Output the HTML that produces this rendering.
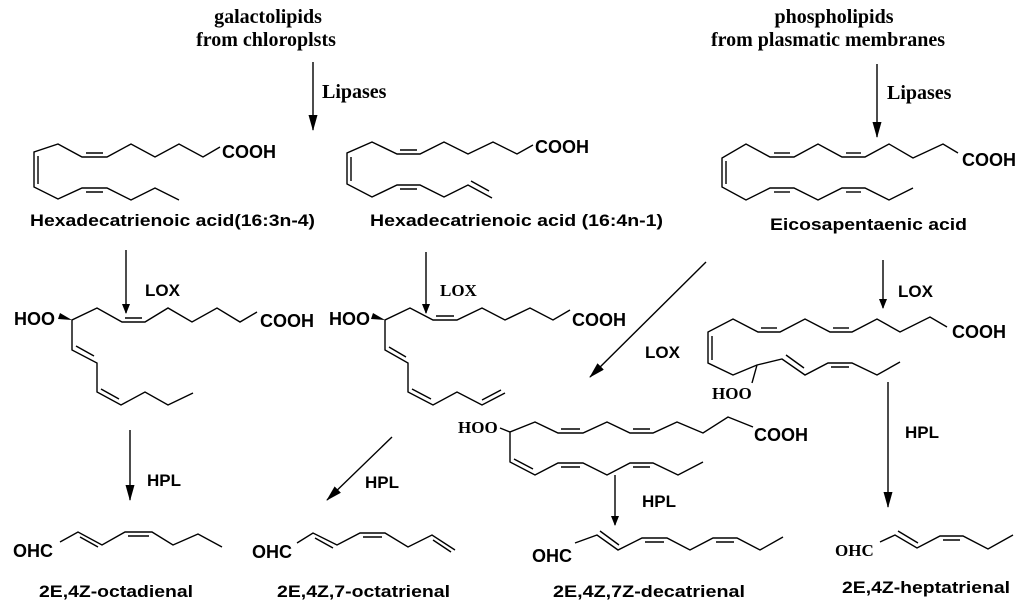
<!DOCTYPE html>
<html><head><meta charset="utf-8"><style>
html,body{margin:0;padding:0;background:#fff}
svg{display:block}
.s{font-family:"Liberation Sans",sans-serif;font-weight:bold;fill:#000}
.r{font-family:"Liberation Serif",serif;font-weight:bold;fill:#000}
</style></head><body>
<svg width="1024" height="612" viewBox="0 0 1024 612" xmlns="http://www.w3.org/2000/svg">
<defs><marker id="a" markerWidth="10" markerHeight="12" refX="9" refY="4" orient="auto" markerUnits="userSpaceOnUse"><path d="M0,0 L10,4 L0,8 z" fill="#000"/></marker>
<marker id="b" markerWidth="16" markerHeight="12" refX="15" refY="4.5" orient="auto" markerUnits="userSpaceOnUse"><path d="M0,0 L16,4.5 L0,9 z" fill="#000"/></marker></defs>
<g fill="none" stroke="#000" stroke-width="1.4">
<line x1="313" y1="62" x2="313" y2="130" marker-end="url(#b)"/>
<line x1="877" y1="64" x2="877" y2="137" marker-end="url(#b)"/>
<line x1="126" y1="250" x2="126" y2="313" marker-end="url(#a)"/>
<line x1="426" y1="252" x2="426" y2="313" marker-end="url(#a)"/>
<line x1="883" y1="260" x2="883" y2="308" marker-end="url(#a)"/>
<line x1="706" y1="262" x2="590" y2="377" marker-end="url(#b)"/>
<line x1="888" y1="382" x2="888" y2="507" marker-end="url(#b)"/>
<line x1="130" y1="430" x2="130" y2="500" marker-end="url(#b)"/>
<line x1="392" y1="437" x2="327" y2="500" marker-end="url(#b)"/>
<line x1="615" y1="475" x2="615" y2="525" marker-end="url(#a)"/>
<polyline points="220,147 203,157 179,144 155,157 131,144 107,157 82,157 58,144 34,152 34,187 58,199 82,188 107,188 131,200 155,188 179,200"/>
<line x1="86" y1="153" x2="103" y2="153"/><line x1="38" y1="156" x2="38" y2="184"/><line x1="86" y1="192" x2="103" y2="192"/>
<polyline points="533,145 517,154 493,142 468,154 444,142 420,154 397,154 372,142 347,153 347,184 372,197 397,185 420,185 444,197 468,185 492,198"/>
<line x1="400" y1="150" x2="417" y2="150"/><line x1="351" y1="157" x2="351" y2="181"/><line x1="400" y1="189" x2="417" y2="189"/><line x1="471" y1="181" x2="489" y2="191"/>
<polyline points="958,153 943,144 913,158 889,144 865,157 842,157 818,144 794,157 770,157 746,144 722,158 722,187 746,200 770,188 794,188 818,200 842,188 865,188 889,200 913,188"/>
<line x1="774" y1="153" x2="790" y2="153"/><line x1="846" y1="153" x2="861" y2="153"/><line x1="726" y1="161" x2="726" y2="184"/><line x1="774" y1="192" x2="790" y2="192"/><line x1="846" y1="192" x2="861" y2="192"/>
<polyline points="257,312 240,322 217,308 192,322 168,308 145,322 122,322 97,308 72,320 72,350 97,363 97,392 121,405 145,392 168,405 193,393"/>
<line x1="125" y1="318" x2="142" y2="318"/><line x1="76" y1="346" x2="94" y2="356"/><line x1="101" y1="389" x2="119" y2="399"/>
<polyline points="570,310 553,320 530,308 505,320 482,308 457,320 433,320 410,308 385,320 385,350 408,363 408,392 433,405 457,392 482,405 505,393"/>
<line x1="436" y1="316" x2="454" y2="316"/><line x1="389" y1="347" x2="406" y2="357"/><line x1="412" y1="389" x2="431" y2="399"/><line x1="482" y1="400" x2="501" y2="390"/>
<polyline points="947,327 930,317 900,332 877,319 852,332 830,332 805,319 780,332 758,332 733,319 708,332 708,363 733,375 757,365 782,359 805,375 828,363 852,363 877,375 900,362"/>
<line x1="761" y1="328" x2="777" y2="328"/><line x1="833" y1="328" x2="849" y2="328"/><line x1="712" y1="336" x2="712" y2="360"/><line x1="786" y1="355" x2="804" y2="368"/><line x1="831" y1="367" x2="849" y2="367"/>
<line x1="757" y1="365" x2="752" y2="383"/>
<polyline points="753,427 728,417 703,433 677,422 653,433 630,433 607,422 583,433 558,433 535,422 510,432 510,462 535,475 558,463 583,463 607,475 630,463 653,463 678,475 703,462"/>
<line x1="561" y1="429" x2="580" y2="429"/><line x1="633" y1="429" x2="650" y2="429"/><line x1="514" y1="459" x2="533" y2="469"/><line x1="561" y1="467" x2="580" y2="467"/><line x1="633" y1="467" x2="650" y2="467"/>
<line x1="500" y1="428" x2="510" y2="432"/>
<polyline points="60,542 78,532 102,545 125,532 152,532 173,545 198,534 222,547"/>
<line x1="80" y1="537" x2="98" y2="547"/><line x1="128" y1="536" x2="149" y2="536"/>
<polyline points="297,543 313,533 337,545 360,533 385,533 408,547 432,535 455,550"/>
<line x1="315" y1="538" x2="333" y2="548"/><line x1="363" y1="537" x2="382" y2="537"/><line x1="433" y1="540" x2="451" y2="552"/>
<polyline points="575,543 597,535 618,550 642,538 667,538 690,550 713,538 737,538 760,550 783,537"/>
<line x1="600" y1="531" x2="619" y2="545"/><line x1="645" y1="542" x2="664" y2="542"/><line x1="716" y1="542" x2="734" y2="542"/>
<polyline points="880,542 895,535 917,548 940,536 963,536 988,549 1013,535"/>
<line x1="898" y1="531" x2="918" y2="543"/><line x1="943" y1="540" x2="960" y2="540"/>
</g>
<polygon points="60,313 72,320 58,319" fill="#000"/>
<polygon points="373,313 385,320 371,319" fill="#000"/>
<text class="r" x="268" y="23" font-size="20" text-anchor="middle">galactolipids</text>
<text class="r" x="266" y="46" font-size="20" text-anchor="middle">from chloroplsts</text>
<text class="r" x="834" y="23" font-size="20" text-anchor="middle">phospholipids</text>
<text class="r" x="828" y="46" font-size="20" text-anchor="middle">from plasmatic membranes</text>
<text class="r" x="322" y="98" font-size="20">Lipases</text>
<text class="r" x="887" y="99" font-size="20">Lipases</text>
<g class="s" font-size="18">
<text x="222" y="158">COOH</text>
<text x="535" y="153">COOH</text>
<text x="962" y="166">COOH</text>
<text x="260" y="327">COOH</text>
<text x="572" y="326">COOH</text>
<text x="952" y="338">COOH</text>
<text x="754" y="441">COOH</text>
<text x="14" y="325">HOO</text>
<text x="329" y="325">HOO</text>
<text x="145" y="296" font-size="17">LOX</text>
<text x="898" y="297" font-size="17">LOX</text>
<text x="645" y="358" font-size="17">LOX</text>
<text x="147" y="486" font-size="17">HPL</text>
<text x="365" y="488" font-size="17">HPL</text>
<text x="642" y="507" font-size="17">HPL</text>
<text x="905" y="438" font-size="17">HPL</text>
<text x="13" y="557">OHC</text>
<text x="252" y="558">OHC</text>
<text x="532" y="562">OHC</text>
<g font-size="17">
<text x="30" y="226" textLength="285" lengthAdjust="spacingAndGlyphs">Hexadecatrienoic acid(16:3n-4)</text>
<text x="370" y="226" textLength="293" lengthAdjust="spacingAndGlyphs">Hexadecatrienoic acid (16:4n-1)</text>
<text x="770" y="230" textLength="197" lengthAdjust="spacingAndGlyphs">Eicosapentaenic acid</text>
<text x="39" y="597" textLength="154" lengthAdjust="spacingAndGlyphs">2E,4Z-octadienal</text>
<text x="277" y="597" textLength="173" lengthAdjust="spacingAndGlyphs">2E,4Z,7-octatrienal</text>
<text x="553" y="597" textLength="192" lengthAdjust="spacingAndGlyphs">2E,4Z,7Z-decatrienal</text>
<text x="842" y="593" textLength="168" lengthAdjust="spacingAndGlyphs">2E,4Z-heptatrienal</text>
</g>
</g>
<g class="r" font-size="17">
<text x="440" y="296">LOX</text>
<text x="712" y="399">HOO</text>
<text x="458" y="433">HOO</text>
<text x="835" y="556">OHC</text>
</g>
</svg>
</body></html>
